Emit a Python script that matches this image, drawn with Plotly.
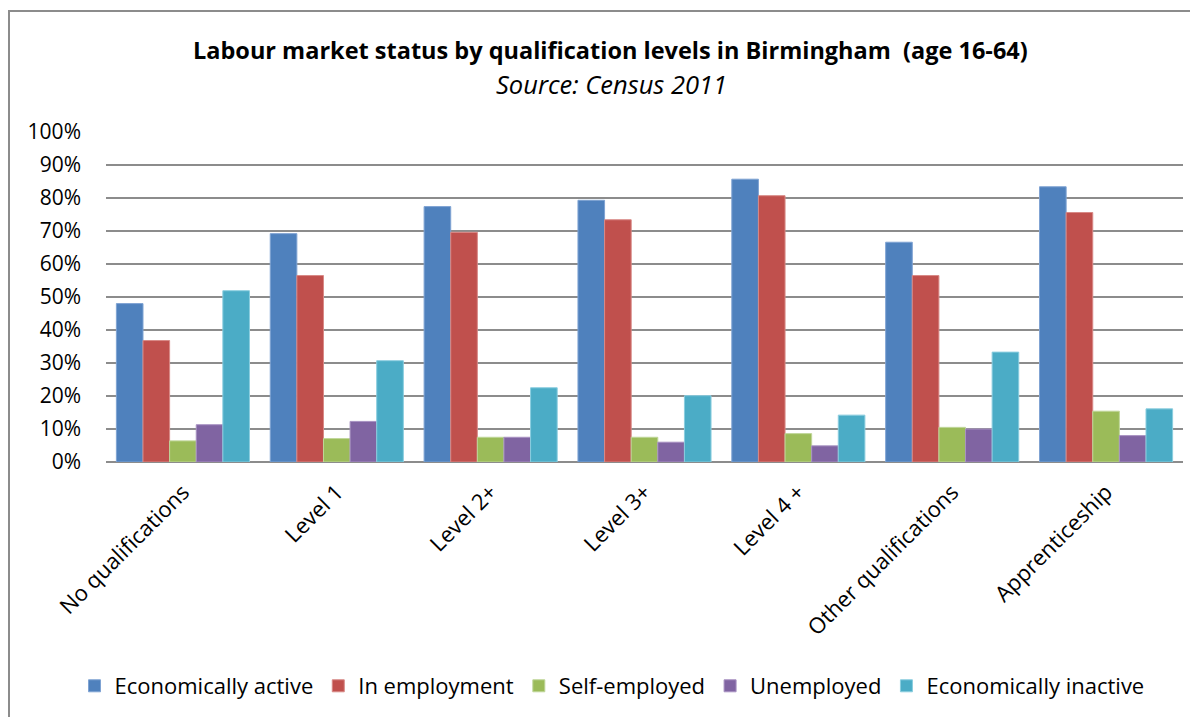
import plotly.graph_objects as go

categories = ["No qualifications", "Level 1", "Level 2+", "Level 3+", "Level 4 +",
              "Other qualifications", "Apprenticeship"]
series_names = ["Economically active", "In employment", "Self-employed", "Unemployed",
                "Economically inactive"]
econ_active = [48.0, 69.2, 77.4, 79.3, 85.7, 66.6, 83.4]
in_employment = [36.8, 56.5, 69.6, 73.4, 80.7, 56.5, 75.6]
self_employed = [6.4, 7.1, 7.5, 7.5, 8.6, 10.5, 15.4]
unemployed = [11.3, 12.3, 7.5, 6.0, 4.9, 10.0, 8.0]
econ_inactive = [51.9, 30.7, 22.5, 20.1, 14.2, 33.3, 16.1]
y_ticks = [0, 10, 20, 30, 40, 50, 60, 70, 80, 90, 100]

colors = ["#4F81BD", "#C0504D", "#9BBB59", "#8064A2", "#4BACC6"]
edges = ["#7FA3D3", "#D88986", "#BFD699", "#A892C2", "#8ACDDF"]
series_vals = [econ_active, in_employment, self_employed, unemployed, econ_inactive]

FONT = "Open Sans, sans-serif"

fig = go.Figure()
for name, vals, c, e in zip(series_names, series_vals, colors, edges):
    fig.add_trace(go.Bar(
        x=categories, y=[v / 100 for v in vals], name=name,
        marker=dict(color=c, line=dict(color=e, width=1)),
    ))

OFF = 8  # page body margin
W, H = 1198 - OFF, 717 - OFF
L = 106 - OFF
T = 132 - OFF
R = W - (1183 - OFF)
B = H - (462 - OFF)
pw = W - L - R
ph = H - T - B

def px(x):  # reference x pixel -> paper
    return (x - OFF - L) / pw

def py(y):  # reference y pixel -> paper
    return (H - B - (y - OFF)) / ph

fig.update_layout(
    width=W, height=H,
    margin=dict(l=L, r=R, t=T, b=B, autoexpand=False),
    paper_bgcolor="white", plot_bgcolor="white",
    barmode="group", bargap=0.135, bargroupgap=0,
    font=dict(family=FONT, size=20, color="#000000"),
    showlegend=True,
    legend=dict(orientation="h", x=px(612), xanchor="center", y=py(686), yanchor="middle",
                font=dict(family=FONT, size=22), traceorder="normal",
                itemwidth=30, bgcolor="rgba(0,0,0,0)"),
    xaxis=dict(tickangle=-45, showgrid=False, showline=False, ticks="",
               ticklabelstandoff=12,
               tickfont=dict(family=FONT, size=22)),
    yaxis=dict(range=[0, 1], tickvals=[t / 100 for t in y_ticks],
               ticktext=[f"{t}%" for t in y_ticks],
               showgrid=True, gridcolor="#8C8C8C", gridwidth=1.5,
               zeroline=True, zerolinecolor="#8C8C8C", zerolinewidth=1.5,
               showline=False, ticks="", ticklabelstandoff=24,
               tickfont=dict(family=FONT, size=21)),
    annotations=[
        dict(text="<b>Labour market status by qualification levels in Birmingham  (age 16-64)</b>",
             x=px(610), y=py(50), xref="paper", yref="paper", showarrow=False,
             xanchor="center", yanchor="middle", font=dict(family=FONT, size=23.5)),
        dict(text="<i>Source: Census 2011</i>",
             x=px(611), y=py(84), xref="paper", yref="paper", showarrow=False,
             xanchor="center", yanchor="middle", font=dict(family=FONT, size=25.5)),
    ],
    shapes=[dict(type="rect", xref="paper", yref="paper",
                 x0=px(9), x1=px(1230), y0=py(760), y1=py(11),
                 line=dict(color="#8C8C8C", width=2), fillcolor="rgba(0,0,0,0)", layer="below")],
)

fig.write_html("out.html")
